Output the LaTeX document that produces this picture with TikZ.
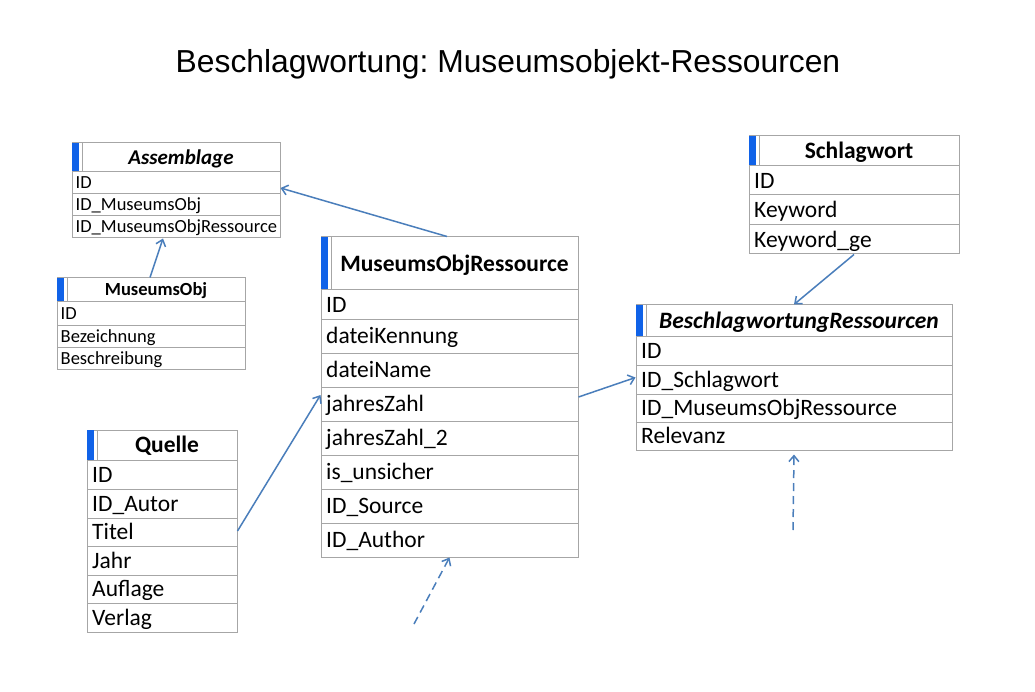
\documentclass[tikz,border=0pt]{standalone}
\usepackage{fontspec}
\setmainfont{Carlito}
\newfontfamily\titlefont{Liberation Sans}
\usetikzlibrary{arrows.meta,fit,calc}
\frenchspacing
\definecolor{tline}{RGB}{166,166,166}
\definecolor{hblue}{RGB}{16,98,232}
\definecolor{arr}{RGB}{74,126,187}
\newcommand\bigf{\fontsize{23.5}{28}\selectfont}
\newcommand\smallf{\fontsize{18.5}{22}\selectfont}
\newcommand\asmf{\fontsize{21}{25}\selectfont}
\tikzset{
  tblbox/.style={draw=tline, line width=1pt, inner sep=0pt},
  hdr/.style={inner sep=0pt, anchor=base},
  rowtxt/.style={inner sep=0pt, anchor=base west},
  conn/.style={draw=arr, line width=1.5pt, -{Straight Barb[length=6pt,width=10pt]}},
  dconn/.style={conn, dash pattern=on 8pt off 5pt},
}
\newcommand\mktbl[9]{% #1 name #2 left #3 top #4 right #5 bottom #6 header bottom #7 header text #8 header font #9 half cap height
  \node[tblbox, fit={(#2,#3) (#4,#5)}] (#1) {};
  \fill[hblue] (#2,#3) rectangle ({#2+7},#6);
  \draw[tline, line width=0.7pt] ({#2+10},#3) -- ({#2+10},#6);
  \draw[tline, line width=1pt] (#2,#6) -- (#4,#6);
  \node[hdr, font=#8] (#1-h) at ({(#2+10+#4)/2},{(#3+#6)/2+#9}) {#7};
}
\newcommand\mkrows[7]{% #1 name #2 left #3 right #4 font #5 offset #6 half cap height #7 list
  \foreach \yt/\yb/\t [count=\i] in {#7} {
    \node[rowtxt, font=#4] (#1-\i) at ({#2+#5},{(\yt+\yb)/2+#6}) {\t};
    \draw[tline, line width=1pt] (#2,\yb) -- (#3,\yb);
  }
}
\begin{document}
\begin{tikzpicture}[x=1pt, y=-1pt]
\useasboundingbox (0,0) rectangle (1035,692);
\fill[white] (0,0) rectangle (1035,692);
\node[inner sep=0pt, anchor=base, font=\titlefont\fontsize{31.8}{38}\selectfont] (title) at (508,73) {Beschlagwortung: Museumsobjekt-Ressourcen};

% Assemblage
\mktbl{asm}{72}{143}{280}{238}{172}{\itshape Assemblage}{\asmf\bfseries}{6.8}
\mkrows{asm}{72}{280}{\smallf}{3.5}{6}{172/194/ID, 194/216/ID\_MuseumsObj, 216/238/ID\_MuseumsObjRessource}

% MuseumsObj
\mktbl{mobj}{57}{278}{245}{369}{302}{MuseumsObj}{\smallf\bfseries}{6}
\mkrows{mobj}{57}{245}{\smallf}{3.5}{6}{302/325/ID, 325/347/Bezeichnung, 347/369/Beschreibung}

% MuseumsObjRessource
\mktbl{mor}{321}{237}{578}{557}{290}{MuseumsObjRessource}{\bigf\bfseries}{7.6}
\mkrows{mor}{321}{578}{\bigf}{5}{7.6}{290/319/ID, 319/353/dateiKennung, 353/387/dateiName, 387/421/jahresZahl, 421/455/jahresZahl\_2, 455/489/is\_unsicher, 489/523/ID\_Source, 523/557/ID\_Author}

% Schlagwort
\mktbl{sw}{749}{136}{959}{254}{166}{Schlagwort}{\bigf\bfseries}{7.6}
\mkrows{sw}{749}{959}{\bigf}{5}{7.6}{166/195/ID, 195/225/Keyword, 225/254/Keyword\_ge}

% BeschlagwortungRessourcen
\mktbl{br}{636}{305}{952}{450}{336}{\itshape BeschlagwortungRessourcen}{\bigf\bfseries}{7.6}
\mkrows{br}{636}{952}{\bigf}{5}{7.6}{336/365/ID, 365/394/ID\_Schlagwort, 394/422/ID\_MuseumsObjRessource, 422/450/Relevanz}

% Quelle
\mktbl{quelle}{87}{430}{237}{632}{460}{Quelle}{\bigf\bfseries}{7.6}
\mkrows{quelle}{87}{237}{\bigf}{5}{7.6}{460/489/ID, 489/518/ID\_Autor, 518/546/Titel, 546/575/Jahr, 575/603/Auflage, 603/632/Verlag}

% connectors
\coordinate (free1) at (414,624);
\coordinate (free2) at (793,530);
\draw[conn] ([xshift=-2.5pt]mor.north) -- ([yshift=2.5pt]asm.east);
\draw[conn] ([xshift=-1pt]mobj.north) -- ([xshift=-13pt]asm.south);
\draw[conn] (quelle.east) -- ([yshift=2pt]mor.west);
\draw[conn] (mor.east) -- (br.west);
\draw[conn] (sw.south) -- (br.north);
\draw[dconn] (free1) -- (mor.south);
\draw[dconn] (free2) -- ([yshift=-4pt]br.south);
\end{tikzpicture}
\end{document}
